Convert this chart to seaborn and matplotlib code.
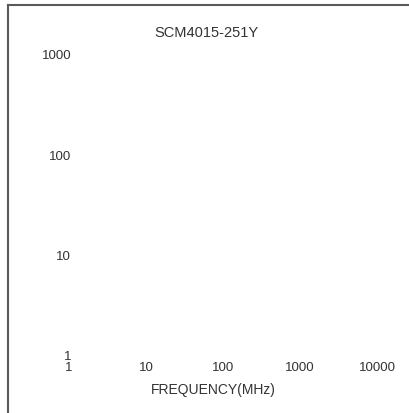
import numpy as np
import pandas as pd
import matplotlib
matplotlib.use('Agg')
import matplotlib.pyplot as plt
import seaborn as sns

# chart texts and ticks
title = 'SCM4015-251Y'
xlabel = 'FREQUENCY(MHz)'
x_ticks = [1, 10, 100, 1000, 10000]
x_ticklabels = ['1', '10', '100', '1000', '10000']
y_ticks = [1, 10, 100, 1000]
y_ticklabels = ['1', '10', '100', '1000']

# the chart has no curve drawn, only the empty log-log frame
freq = []
imp = []

sns.set_theme(style='white')
plt.rcParams['font.family'] = ['Liberation Sans', 'DejaVu Sans']
txt_col = '#333333'

fig = plt.figure(figsize=(4.09, 4.14), dpi=100)

# outer frame: left and top border only
frame = fig.add_axes([7.7 / 409, -0.2, 1.3, 1.2 - 6.3 / 414])
frame.set_xticks([])
frame.set_yticks([])
frame.patch.set_alpha(0)
for s in ['right', 'bottom']:
    frame.spines[s].set_visible(False)
for s in ['left', 'top']:
    frame.spines[s].set_color('#5e5955')
    frame.spines[s].set_linewidth(1.5)

ax = fig.add_axes([69 / 409, 1 - 356 / 414, 308 / 409, 301 / 414])
ax.patch.set_alpha(0)
df = pd.DataFrame({'freq': freq, 'imp': imp})
sns.lineplot(data=df, x='freq', y='imp', ax=ax)
ax.set_xscale('log')
ax.set_yscale('log')
ax.set_xlim(1, 10000)
ax.set_ylim(1, 1000)
ax.set_xticks(x_ticks)
ax.set_xticklabels(x_ticklabels)
ax.set_yticks(y_ticks)
ax.set_yticklabels(y_ticklabels)
ax.minorticks_off()
ax.tick_params(axis='x', length=0, pad=4.5, labelsize=9.5, labelcolor=txt_col)
ax.tick_params(axis='y', length=0, pad=-1.5, labelsize=9.5, labelcolor=txt_col)
ax.set_xlabel('')
ax.set_ylabel('')
sns.despine(ax=ax, left=True, bottom=True)

fig.text(206 / 409, 1 - 33 / 414, title, ha='center', va='center',
         fontsize=10.5, color=txt_col)
fig.text(213.5 / 409, 1 - 390 / 414, xlabel, ha='center', va='center',
         fontsize=10, color=txt_col)

plt.savefig('out.png', dpi=100)
